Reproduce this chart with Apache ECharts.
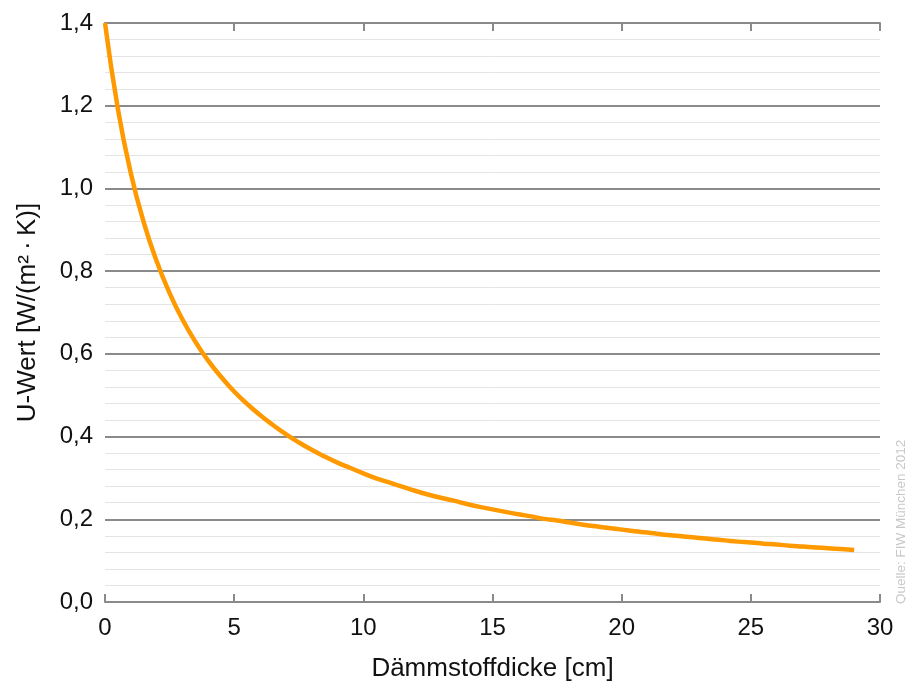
<!DOCTYPE html>
<html>
<head>
<meta charset="utf-8">
<script src="https://cdn.jsdelivr.net/npm/echarts@6/dist/echarts.min.js"></script>
<style>html,body{margin:0;padding:0;background:#fff}#c{width:906px;height:687px}</style>
</head>
<body>
<div id="c"></div>
<script>
var thickness = [0, 0.5, 1, 1.5, 2, 2.5, 3, 3.5, 4, 4.5, 5, 5.5, 6, 6.5, 7, 7.5, 8, 8.5, 9, 9.5,
  10, 10.5, 11, 11.5, 12, 12.5, 13, 13.5, 14, 14.5, 15, 15.5, 16, 16.5, 17, 17.5, 18, 18.5, 19, 19.5,
  20, 20.5, 21, 21.5, 22, 22.5, 23, 23.5, 24, 24.5, 25, 25.5, 26, 26.5, 27, 27.5, 28, 28.5, 29];
var uValue = [1.400, 1.192, 1.037, 0.918, 0.824, 0.747, 0.683, 0.629, 0.583, 0.544, 0.509, 0.479, 0.452, 0.428, 0.406, 0.386, 0.368, 0.352, 0.337, 0.324,
  0.311, 0.299, 0.289, 0.279, 0.269, 0.260, 0.252, 0.245, 0.237, 0.230, 0.224, 0.218, 0.212, 0.207, 0.201, 0.197, 0.192, 0.187, 0.183, 0.179,
  0.175, 0.171, 0.168, 0.164, 0.161, 0.158, 0.155, 0.152, 0.149, 0.146, 0.144, 0.141, 0.139, 0.136, 0.134, 0.132, 0.130, 0.128, 0.126];
var xTitle = 'Dämmstoffdicke [cm]';
var yTitle = 'U-Wert [W/(m²\u2009·\u2009K)]';
var sourceText = 'Quelle: FIW München 2012';

var chart = echarts.init(document.getElementById('c'));
var font = 'Liberation Sans, Arial, sans-serif';
var axisCol = '#8a8a8a';
chart.setOption({
  backgroundColor: '#fff',
  animation: false,
  grid: {left: 105, right: 26, top: 23, bottom: 84},
  xAxis: [{
    type: 'value', min: 0, max: 30, interval: 5, position: 'bottom',
    name: xTitle, nameLocation: 'middle', nameGap: 54,
    nameTextStyle: {fontFamily: font, fontSize: 26, color: '#111'},
    axisLine: {show: true, lineStyle: {color: axisCol, width: 2}},
    axisTick: {show: true, inside: true, length: 8, lineStyle: {color: axisCol, width: 2}},
    axisLabel: {fontFamily: font, fontSize: 24, color: '#111', margin: 14},
    splitLine: {show: false}
  }, {
    type: 'value', min: 0, max: 30, interval: 5, position: 'top',
    axisLine: {show: true, lineStyle: {color: axisCol, width: 2}},
    axisTick: {show: true, inside: true, length: 8, lineStyle: {color: axisCol, width: 2}},
    axisLabel: {show: false},
    splitLine: {show: false}
  }],
  yAxis: {
    type: 'value', min: 0, max: 1.4, interval: 0.2,
    name: yTitle, nameLocation: 'middle', nameGap: 64,
    nameTextStyle: {fontFamily: font, fontSize: 26, color: '#111'},
    axisLine: {show: false},
    axisTick: {show: false},
    axisLabel: {fontFamily: font, fontSize: 24, color: '#111', margin: 12,
      formatter: function (v) { return v.toFixed(1).replace('.', ','); }},
    splitLine: {show: true, lineStyle: {color: axisCol, width: 2}},
    minorTick: {show: false, splitNumber: 5},
    minorSplitLine: {show: true, lineStyle: {color: '#e4e4e4', width: 1}}
  },
  graphic: [{
    type: 'text', rotation: Math.PI / 2, x: 901, y: 604,
    style: {text: sourceText, fontFamily: font, fontSize: 13.5, fill: '#c8c8c8', textAlign: 'left', textVerticalAlign: 'middle'}
  }],
  series: [{
    type: 'line', xAxisIndex: 0,
    data: thickness.map(function (d, i) { return [d, uValue[i]]; }),
    smooth: true, showSymbol: false,
    lineStyle: {color: '#ff9900', width: 4.5}
  }]
});
</script>
</body>
</html>
